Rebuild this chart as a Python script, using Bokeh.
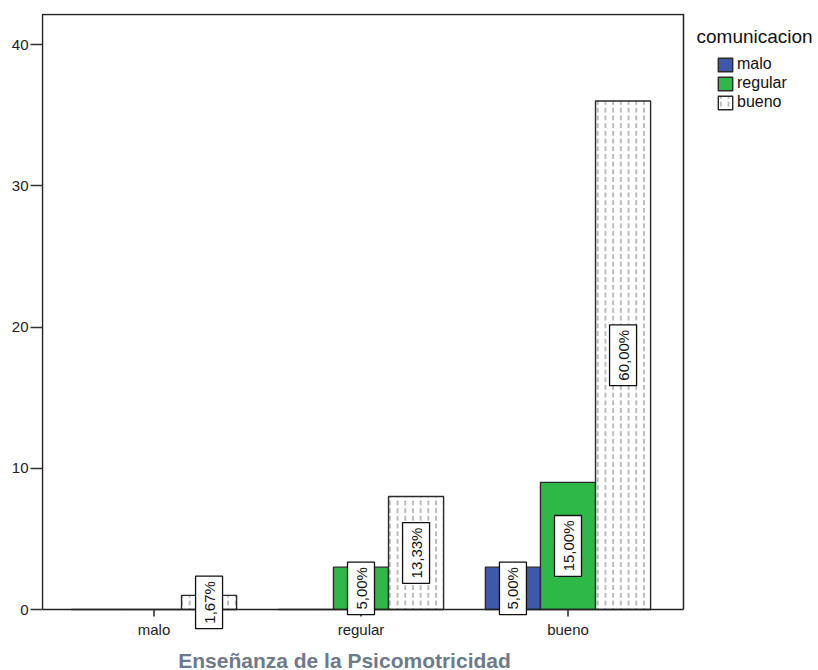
import math
from bokeh.plotting import figure
from bokeh.models import (ColumnDataSource, Range1d, FixedTicker,
                          Legend, LegendItem, Label)
from bokeh.core.properties import value
from bokeh.transform import dodge
from bokeh.embed import file_html
from bokeh.resources import INLINE

# Enseñanza de la Psicomotricidad (x categories)
categories = ["malo", "regular", "bueno"]
x_title = "Enseñanza de la Psicomotricidad"
# comunicacion (series)
legend_title = "comunicacion"
series_names = ["malo", "regular", "bueno"]
malo_counts = [0, 0, 3]
regular_counts = [0, 3, 9]
bueno_counts = [1, 8, 36]
y_ticks = [0, 10, 20, 30, 40]

series_counts = [malo_counts, regular_counts, bueno_counts]
total = sum(sum(c) for c in series_counts)

colors = ["#3e58ac", "#2eb848", "#ffffff"]
bar_w = 0.266
offsets = [-bar_w, 0.0, bar_w]
x_idx = list(range(len(categories)))

# ---- layout constants (pixels on the canvas) ----
W, H = 818, 670
FRAME_L, FRAME_R, FRAME_T, FRAME_B = 41, 818, 13, 670
X0_PX, X_PX_PER = 153.5, 207.0      # pixel of category 0, pixels per category
Y0_PX, Y_PX_PER = 609.0, 14.125     # pixel of value 0, pixels per unit


def px_x(px):
    return (px - X0_PX) / X_PX_PER


def px_y(py):
    return (Y0_PX - py) / Y_PX_PER


p = figure(width=W, height=H, output_backend="svg", toolbar_location=None,
           x_range=Range1d(px_x(FRAME_L), px_x(FRAME_R)),
           y_range=Range1d(px_y(FRAME_B), px_y(FRAME_T)),
           min_border_left=FRAME_L, min_border_right=W - FRAME_R,
           min_border_top=FRAME_T, min_border_bottom=H - FRAME_B)

p.xgrid.grid_line_color = None
p.ygrid.grid_line_color = None
p.outline_line_color = None
p.background_fill_color = "white"
p.border_fill_color = "white"

renderers = []
for name, counts, col, off in zip(series_names, series_counts, colors, offsets):
    src = ColumnDataSource(dict(x=x_idx, top=counts))
    kw = {}
    if name == "bueno":
        kw = dict(hatch_pattern=":", hatch_color="#7a7a7a", hatch_scale=7.7,
                  hatch_weight=1)
    r = p.vbar(x=dodge("x", off, range=p.x_range), top="top", bottom=0,
               width=bar_w, source=src, fill_color=col, line_color="#2a2a2a",
               line_width=1.4, **kw)
    renderers.append(r)

# plot box (left, top, right border and the zero line)
bl, br, bt = px_x(42), px_x(683), px_y(14)
p.line(x=[bl, bl, br, br], y=[0, bt, bt, 0], line_color="#222222",
       line_width=1.5)
p.line(x=[bl, br], y=[0, 0], line_color="#222222", line_width=1.6)
# x ticks at the zero line
p.segment(x0=x_idx, x1=x_idx, y0=[0] * 3, y1=[-7 / Y_PX_PER] * 3,
          line_color="#333333", line_width=1.6)
# x category labels
p.text(x=x_idx, y=[px_y(629)] * 3, text=categories, text_align="center",
       text_baseline="middle", text_font=value("Liberation Sans"),
       text_font_size="15px", text_color="#222222")

# percentage labels
for name, counts, off in zip(series_names, series_counts, offsets):
    for i, c in zip(x_idx, counts):
        if c > 0:
            txt = f"{c / total * 100:.2f}%".replace(".", ",")
            lbl = Label(x=i + off, y=c / 2, text=txt, angle=math.pi / 2,
                        text_align="center", text_baseline="middle",
                        text_font_size="15px", text_font="Liberation Sans",
                        text_color="#111111", background_fill_color="white",
                        border_line_color="#111111", border_line_width=1.3,
                        padding=5)
            p.add_layout(lbl)

p.xaxis.visible = False
p.yaxis.ticker = FixedTicker(ticks=y_ticks)
p.yaxis.minor_tick_line_color = None
p.yaxis.axis_line_color = None
p.yaxis.major_label_text_font = "Liberation Sans"
p.yaxis.major_label_text_color = "#222222"
p.yaxis.major_label_text_font_size = "15px"
p.yaxis.major_tick_in = 1
p.yaxis.major_tick_out = 11
p.yaxis.major_tick_line_color = "#333333"
p.yaxis.major_tick_line_width = 1.5
p.yaxis.major_label_standoff = 2

# x axis title
p.add_layout(Label(x=px_x(344), y=px_y(659.5), text=x_title,
                   text_align="center", text_baseline="middle",
                   text_font="Liberation Sans", text_font_style="bold",
                   text_font_size="21px", text_color="#6d7a8a"))

# legend
pad = 4
item_h, spacing_ = 18.4, 1
leg_h = 3 * item_h + 2 * spacing_ + 2 * pad
leg_top = 53.8 - pad
legend = Legend(items=[LegendItem(label=n, renderers=[r])
                       for n, r in zip(series_names, renderers)],
                location=(716 - pad - FRAME_L, FRAME_B - leg_top - leg_h),
                glyph_width=18, glyph_height=17,
                label_text_font_size="16px", label_text_font="Liberation Sans",
                label_text_color="#111111", spacing=spacing_, padding=pad,
                margin=0, label_standoff=3, label_height=17,
                border_line_alpha=0, background_fill_alpha=0)
p.add_layout(legend)

p.add_layout(Label(x=px_x(696), y=px_y(36.4), text=legend_title,
                   text_font_size="19px", text_font="Liberation Sans",
                   text_color="#111111", text_baseline="middle",
                   text_align="left"))

open("out.html", "w").write(file_html(p, INLINE))
